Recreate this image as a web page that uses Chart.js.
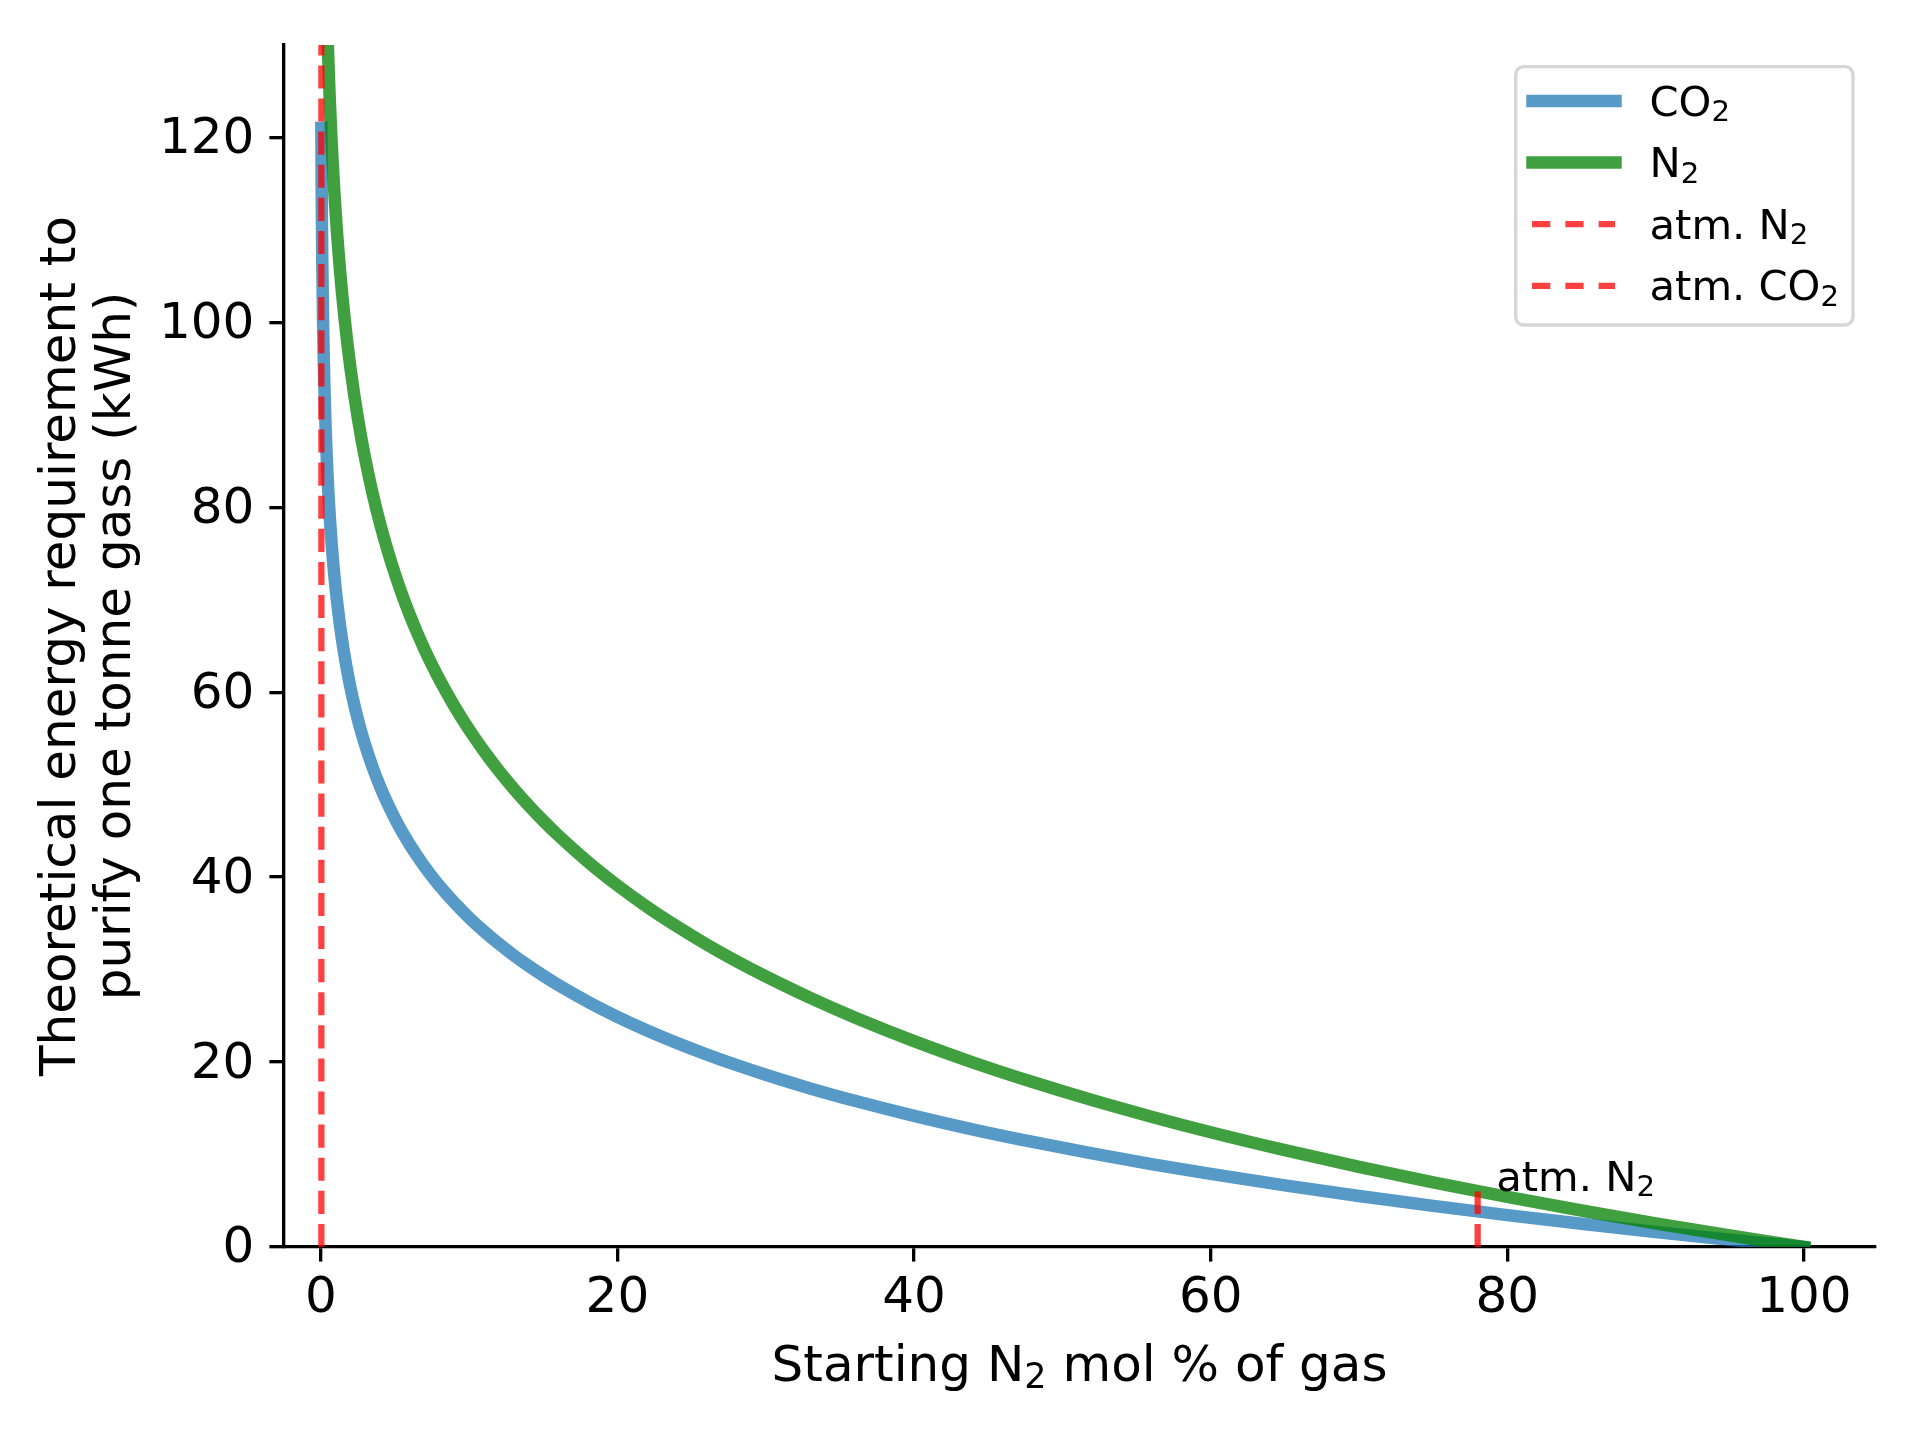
<!DOCTYPE html>
<html><head><meta charset="utf-8">
<script src="https://cdn.jsdelivr.net/npm/chart.js@4.4.1/dist/chart.umd.min.js"></script>
<style>html,body{margin:0;padding:0;background:#fff;}</style>
</head><body>
<canvas id="c" width="1920" height="1440"></canvas>
<script>
// ---- data ----
const co2Pct = [0.04,0.06,0.08,0.1,0.15,0.2,0.25,0.3,0.35,0.4,0.45,0.5,0.55,0.6,0.7,0.8,0.9,1,1.1,1.25,1.4,1.6,1.8,2,2.25,2.5,2.75,3,3.5,4,4.5,5,5.5,6,6.5,7,7.5,8,9,10,11,12,13,14,15,16,18,20,22,24,26,28,30,33,36,40,44,48,52,56,60,65,70,75,80,85,90,95,100];
const co2Kwh = [121.04,114.77,110.32,106.86,100.59,96.14,92.69,89.87,87.48,85.42,83.59,81.96,80.49,79.14,76.76,74.69,72.87,71.24,69.77,67.79,66.04,63.97,62.15,60.52,58.70,57.07,55.59,54.25,51.86,49.80,47.97,46.34,44.87,43.52,42.29,41.14,40.07,39.07,37.25,35.62,34.15,32.80,31.56,30.42,29.35,28.35,26.53,24.90,23.42,22.08,20.84,19.69,18.63,17.15,15.81,14.18,12.70,11.36,10.12,8.97,7.90,6.66,5.52,4.45,3.45,2.51,1.63,0.79,0];
const n2Pct = [0.45,0.5,0.55,0.6,0.7,0.8,0.9,1,1.1,1.25,1.4,1.6,1.8,2,2.25,2.5,2.75,3,3.5,4,4.5,5,5.5,6,6.5,7,7.5,8,9,10,11,12,13,14,15,16,18,20,22,24,26,28,30,33,36,40,44,48,52,56,60,65,70,75,80,85,90,95,100];
const n2Kwh = [131.31,128.75,126.43,124.32,120.57,117.33,114.47,111.91,109.59,106.48,103.73,100.49,97.62,95.06,92.20,89.64,87.32,85.21,81.46,78.22,75.36,72.80,70.48,68.37,66.42,64.62,62.94,61.37,58.51,55.95,53.64,51.52,49.58,47.78,46.10,44.53,41.67,39.11,36.79,34.68,32.73,30.93,29.26,26.94,24.83,22.27,19.95,17.84,15.89,14.09,12.41,10.47,8.67,6.99,5.42,3.95,2.56,1.25,0];
const atmN2Pct = [78, 78];
const atmN2Kwh = [0, 6.0];
const atmCO2Pct = [0.04, 0.04];
const atmCO2Kwh = [0, 130];
const seriesLabels = ['CO₂', 'N₂', 'atm. N₂', 'atm. CO₂'];
const xTicks = [0, 20, 40, 60, 80, 100];
const yTicks = [0, 20, 40, 60, 80, 100, 120];
const xTitle = 'Starting N₂ mol % of gas';
const yTitle = ['Theoretical energy requirement to', 'purify one tonne gass (kWh)'];
const annotText = 'atm. N₂';

// ---- styling / layout ----
const FONT = '"DejaVu Sans", sans-serif';
const TICK_SIZE = 50, LABEL_SIZE = 50, SMALL_SIZE = 41.7;
const LW = 3.33;
const annotPos = {x: 79.25, y: 6.05};

const SUBS = {'₀':'0','₁':'1','₂':'2','₃':'3','₄':'4','₅':'5','₆':'6','₇':'7','₈':'8','₉':'9'};
function drawRich(ctx, text, x, y, size, align) {
  const parts = []; let cur = ''; let curSub = null;
  for (const ch of text) {
    const isSub = ch in SUBS;
    if (curSub !== null && isSub !== curSub && cur) { parts.push({t: cur, sub: curSub}); cur = ''; }
    curSub = isSub; cur += isSub ? SUBS[ch] : ch;
  }
  if (cur) parts.push({t: cur, sub: curSub});
  let total = 0;
  for (const p of parts) { ctx.font = (p.sub ? size * 0.7 : size) + 'px ' + FONT; p.w = ctx.measureText(p.t).width; total += p.w; }
  let cx = align === 'center' ? x - total / 2 : (align === 'right' ? x - total : x);
  ctx.textAlign = 'left'; ctx.textBaseline = 'alphabetic';
  for (const p of parts) {
    ctx.font = (p.sub ? size * 0.7 : size) + 'px ' + FONT;
    ctx.fillText(p.t, cx, p.sub ? y + size * 0.13 : y);
    cx += p.w;
  }
}

const toXY = (xs, ys) => xs.map((v, i) => ({x: v, y: ys[i]}));

const overlay = {
  id: 'overlay',
  afterDraw(chart) {
    const ctx = chart.ctx, ca = chart.chartArea, sx = chart.scales.x, sy = chart.scales.y;
    ctx.save();
    ctx.fillStyle = '#000';
    // axis titles
    drawRich(ctx, xTitle, (ca.left + ca.right) / 2, 1381, LABEL_SIZE, 'center');
    const cy = (ca.top + ca.bottom) / 2;
    [75, 130].forEach((bx, i) => {
      ctx.save(); ctx.translate(bx, cy); ctx.rotate(-Math.PI / 2);
      drawRich(ctx, yTitle[i], 0, 0, LABEL_SIZE, 'center');
      ctx.restore();
    });
    // annotation
    drawRich(ctx, annotText, sx.getPixelForValue(annotPos.x), sy.getPixelForValue(annotPos.y), SMALL_SIZE, 'left');
    // legend
    const bx = 1515.7, by = 66.7, bw = 337.3, bh = 258.3;
    ctx.beginPath(); ctx.roundRect(bx, by, bw, bh, 8);
    ctx.fillStyle = 'rgba(255,255,255,0.8)'; ctx.fill();
    ctx.lineWidth = LW; ctx.strokeStyle = 'rgba(204,204,204,0.8)'; ctx.stroke();
    chart.data.datasets.forEach((ds, i) => {
      const rowY = 101 + i * 61.6;
      ctx.save();
      ctx.strokeStyle = ds.borderColor; ctx.lineWidth = ds.borderWidth;
      ctx.beginPath();
      if (ds.borderDash && ds.borderDash.length) {
        ctx.setLineDash([18.3, 15]); ctx.lineCap = 'butt';
        ctx.moveTo(1532, rowY); ctx.lineTo(1615, rowY);
      } else {
        ctx.lineCap = 'square';
        ctx.moveTo(1532.5, rowY); ctx.lineTo(1615.5, rowY);
      }
      ctx.stroke(); ctx.restore();
      ctx.fillStyle = '#000';
      drawRich(ctx, ds.label, 1649.5, rowY + 14.5, SMALL_SIZE, 'left');
    });
    ctx.restore();
  }
};

const BLUE = 'rgba(31,119,180,0.75)', GREEN = 'rgba(0,128,0,0.75)', RED = 'rgba(255,0,0,0.75)';
const lineBase = {pointRadius: 0, tension: 0, clip: 0, borderJoinStyle: 'round', fill: false};

new Chart(document.getElementById('c'), {
  type: 'line',
  data: {
    datasets: [
      {...lineBase, label: seriesLabels[0], data: toXY(co2Pct, co2Kwh), borderColor: BLUE, borderWidth: 12.5, borderCapStyle: 'square', cubicInterpolationMode: 'monotone', order: 4},
      {...lineBase, label: seriesLabels[1], data: toXY(n2Pct, n2Kwh), borderColor: GREEN, borderWidth: 12.5, borderCapStyle: 'square', cubicInterpolationMode: 'monotone', order: 3},
      {...lineBase, label: seriesLabels[2], data: toXY(atmN2Pct, atmN2Kwh), borderColor: RED, borderWidth: 6.25, borderDash: [23.1, 10], borderCapStyle: 'butt', order: 2},
      {...lineBase, label: seriesLabels[3], data: toXY(atmCO2Pct, atmCO2Kwh), borderColor: RED, borderWidth: 6.25, borderDash: [23.1, 10], borderCapStyle: 'butt', order: 1}
    ]
  },
  options: {
    responsive: false, devicePixelRatio: 1, animation: false, events: [],
    layout: {padding: {left: 0, right: 45, top: 45, bottom: 0}},
    plugins: {legend: {display: false}, tooltip: {enabled: false}},
    scales: {
      x: {
        type: 'linear', min: -2.48, max: 104.79, z: 1,
        afterBuildTicks: s => { s.ticks = xTicks.map(v => ({value: v})); },
        afterFit: s => { s.height = 193; },
        grid: {drawOnChartArea: false, drawTicks: true, tickLength: 14.6, lineWidth: LW, color: '#000'},
        border: {display: true, color: '#000', width: LW},
        ticks: {color: '#000', font: {family: FONT, size: TICK_SIZE}, padding: 7, maxRotation: 0, autoSkip: false}
      },
      y: {
        type: 'linear', min: 0, max: 130, z: 1,
        afterBuildTicks: s => { s.ticks = yTicks.map(v => ({value: v})); },
        afterFit: s => { s.width = 284; },
        grid: {drawOnChartArea: false, drawTicks: true, tickLength: 14.6, lineWidth: LW, color: '#000'},
        border: {display: true, color: '#000', width: LW},
        ticks: {color: '#000', font: {family: FONT, size: TICK_SIZE}, padding: 15, labelOffset: 2.5, autoSkip: false}
      }
    }
  },
  plugins: [overlay]
});
</script>
</body></html>
